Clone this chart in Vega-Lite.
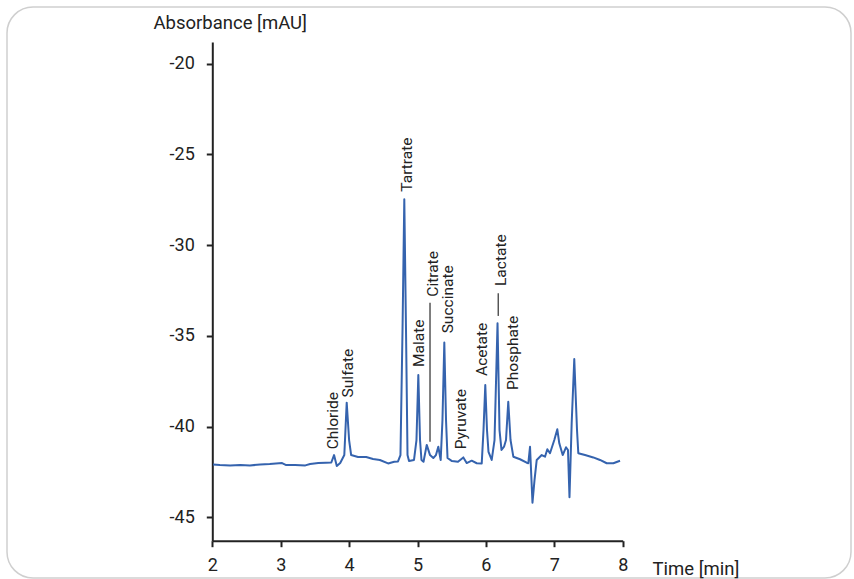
{
  "$schema": "https://vega.github.io/schema/vega-lite/v6.json",
  "width": 844,
  "height": 571,
  "autosize": "none",
  "padding": {"left": 7, "top": 7, "right": 3, "bottom": 1},
  "background": "white",
  "config": {
    "font": "Roboto",
    "view": {"stroke": "#cfcfcf", "strokeWidth": 1.5, "cornerRadius": 26},
    "axis": {
      "grid": false,
      "domainColor": "#222222",
      "domainWidth": 2,
      "tickColor": "#222222",
      "tickWidth": 2,
      "tickSize": 6,
      "labelFont": "Roboto",
      "labelFontSize": 18,
      "labelColor": "#222222",
      "labelFlush": false,
      "labelOverlap": false,
      "labelExpr": "datum.value + ''",
      "titleFont": "Roboto",
      "titleFontSize": 18.5,
      "titleFontWeight": "normal",
      "titleColor": "#222222"
    }
  },
  "datasets": {
    "trace": [
      {"t": 2.01, "v": -42.09}, {"t": 2.11, "v": -42.12}, {"t": 2.26, "v": -42.14}, {"t": 2.41, "v": -42.12},
      {"t": 2.55, "v": -42.14}, {"t": 2.70, "v": -42.09}, {"t": 2.84, "v": -42.06}, {"t": 2.93, "v": -42.03},
      {"t": 3.02, "v": -42.01}, {"t": 3.08, "v": -42.12}, {"t": 3.21, "v": -42.12}, {"t": 3.36, "v": -42.14},
      {"t": 3.43, "v": -42.06}, {"t": 3.55, "v": -42.01}, {"t": 3.66, "v": -41.99}, {"t": 3.74, "v": -41.98},
      {"t": 3.78, "v": -41.57}, {"t": 3.82, "v": -42.17}, {"t": 3.87, "v": -42.01}, {"t": 3.93, "v": -41.57},
      {"t": 3.965, "v": -38.68}, {"t": 4.0, "v": -40.74}, {"t": 4.03, "v": -41.57}, {"t": 4.13, "v": -41.68},
      {"t": 4.25, "v": -41.68}, {"t": 4.35, "v": -41.79}, {"t": 4.45, "v": -41.84}, {"t": 4.57, "v": -42.03},
      {"t": 4.66, "v": -41.94}, {"t": 4.715, "v": -41.92}, {"t": 4.751, "v": -41.57}, {"t": 4.781, "v": -34.67},
      {"t": 4.807, "v": -27.47}, {"t": 4.832, "v": -34.67}, {"t": 4.854, "v": -41.57}, {"t": 4.876, "v": -41.9},
      {"t": 4.949, "v": -41.84}, {"t": 4.985, "v": -40.74}, {"t": 5.012, "v": -37.16}, {"t": 5.037, "v": -40.74},
      {"t": 5.058, "v": -41.84}, {"t": 5.088, "v": -41.94}, {"t": 5.135, "v": -41.01}, {"t": 5.183, "v": -41.57},
      {"t": 5.231, "v": -41.73}, {"t": 5.27, "v": -41.57}, {"t": 5.304, "v": -41.11}, {"t": 5.339, "v": -41.84},
      {"t": 5.365, "v": -39.64}, {"t": 5.392, "v": -35.37}, {"t": 5.417, "v": -39.64}, {"t": 5.439, "v": -41.73},
      {"t": 5.504, "v": -41.9}, {"t": 5.592, "v": -41.94}, {"t": 5.67, "v": -41.7}, {"t": 5.719, "v": -42.01},
      {"t": 5.792, "v": -41.88}, {"t": 5.866, "v": -42.02}, {"t": 5.939, "v": -42.03}, {"t": 5.965, "v": -40.19},
      {"t": 5.991, "v": -37.71}, {"t": 6.016, "v": -40.19}, {"t": 6.038, "v": -41.4}, {"t": 6.085, "v": -41.84},
      {"t": 6.126, "v": -40.74}, {"t": 6.17, "v": -34.31}, {"t": 6.199, "v": -40.19}, {"t": 6.228, "v": -41.29},
      {"t": 6.265, "v": -41.11}, {"t": 6.294, "v": -40.74}, {"t": 6.327, "v": -38.63}, {"t": 6.36, "v": -40.74},
      {"t": 6.401, "v": -41.66}, {"t": 6.499, "v": -41.8}, {"t": 6.596, "v": -41.99}, {"t": 6.62, "v": -42.02},
      {"t": 6.645, "v": -41.11}, {"t": 6.681, "v": -44.2}, {"t": 6.711, "v": -42.94}, {"t": 6.743, "v": -41.84},
      {"t": 6.816, "v": -41.57}, {"t": 6.864, "v": -41.66}, {"t": 6.898, "v": -41.25}, {"t": 6.937, "v": -41.47},
      {"t": 7.0, "v": -40.74}, {"t": 7.044, "v": -40.15}, {"t": 7.073, "v": -40.92}, {"t": 7.123, "v": -41.57},
      {"t": 7.171, "v": -41.14}, {"t": 7.2, "v": -41.29}, {"t": 7.222, "v": -43.9}, {"t": 7.254, "v": -39.82},
      {"t": 7.292, "v": -36.27}, {"t": 7.332, "v": -40.19}, {"t": 7.351, "v": -41.47}, {"t": 7.449, "v": -41.57},
      {"t": 7.57, "v": -41.7}, {"t": 7.668, "v": -41.84}, {"t": 7.766, "v": -42.02}, {"t": 7.863, "v": -42.02},
      {"t": 7.961, "v": -41.88}
    ],
    "labels": [
      {"name": "Chloride", "t": 3.769, "v": -41.25},
      {"name": "Sulfate", "t": 3.988, "v": -38.39},
      {"name": "Tartrate", "t": 4.842, "v": -27.05},
      {"name": "Malate", "t": 5.022, "v": -36.71},
      {"name": "Citrate", "t": 5.231, "v": -32.84},
      {"name": "Succinate", "t": 5.45, "v": -34.86},
      {"name": "Pyruvate", "t": 5.636, "v": -41.25},
      {"name": "Acetate", "t": 5.943, "v": -37.21},
      {"name": "Lactate", "t": 6.216, "v": -32.25},
      {"name": "Phosphate", "t": 6.401, "v": -37.98}
    ],
    "leaders": [
      {"t": 5.183, "y1": -33.17, "y2": -40.83},
      {"t": 6.181, "y1": -32.65, "y2": -33.9}
    ]
  },
  "layer": [
    {
      "data": {"name": "trace"},
      "mark": {"type": "line", "color": "#3563ae", "strokeWidth": 2, "strokeJoin": "round"},
      "encoding": {
        "x": {
          "field": "t", "type": "quantitative",
          "scale": {"domain": [2, 8], "range": [205.3, 615.7], "nice": false, "zero": false},
          "axis": {
            "title": "Time [min]",
            "values": [2, 3, 4, 5, 6, 7, 8],
            "offset": -37.3,
            "labelPadding": 10,
            "titleX": 645,
            "titleY": 34,
            "titleAlign": "left",
            "titleBaseline": "alphabetic"
          }
        },
        "y": {
          "field": "v", "type": "quantitative",
          "scale": {"domain": [-46.29, -18.8], "range": [533.7, 35], "nice": false, "zero": false},
          "axis": {
            "title": "Absorbance [mAU]",
            "values": [-45, -40, -35, -30, -25, -20],
            "offset": -205.3,
            "labelPadding": 12,
            "titleAngle": 0,
            "titleX": -59.3,
            "titleY": 21.3,
            "titleAlign": "left",
            "titleBaseline": "alphabetic"
          }
        }
      }
    },
    {
      "data": {"name": "leaders"},
      "mark": {"type": "rule", "color": "#555555", "strokeWidth": 1.5},
      "encoding": {
        "x": {"field": "t", "type": "quantitative"},
        "y": {"field": "y1", "type": "quantitative"},
        "y2": {"field": "y2"}
      }
    },
    {
      "data": {"name": "labels"},
      "mark": {"type": "text", "angle": 270, "align": "left", "baseline": "middle", "fontSize": 15.5, "color": "#222222", "font": "Roboto"},
      "encoding": {
        "x": {"field": "t", "type": "quantitative"},
        "y": {"field": "v", "type": "quantitative"},
        "text": {"field": "name"}
      }
    }
  ]
}
